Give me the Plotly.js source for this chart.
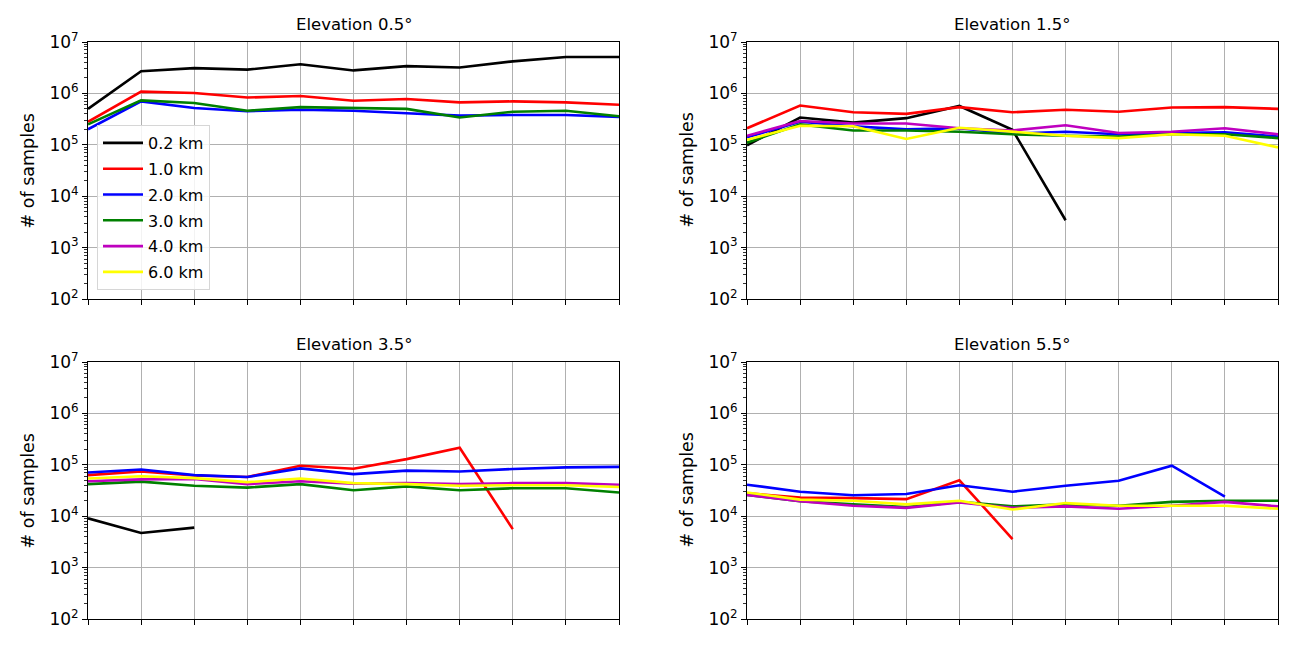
<!DOCTYPE html>
<html>
<head>
<meta charset="utf-8">
<script src="https://cdn.plot.ly/plotly-3.0.1.min.js"></script>
<style>html,body{margin:0;padding:0;background:#fff;}#chart{width:1299px;height:647px;}</style>
</head>
<body>
<div id="chart"></div>
<script>
// x positions (unlabelled bins)
const xBins = [0,1,2,3,4,5,6,7,8,9,10];
const seriesNames = ["0.2 km","1.0 km","2.0 km","3.0 km","4.0 km","6.0 km"];
const seriesColors = ["#000000","#ff0000","#0000ff","#008000","#bf00bf","#ffff00"];
const panelTitles = ["Elevation 0.5°","Elevation 1.5°","Elevation 3.5°","Elevation 5.5°"];
const yTickVals = [1e2,1e3,1e4,1e5,1e6,1e7];
const yTickText = ["10<sup>2</sup>","10<sup>3</sup>","10<sup>4</sup>","10<sup>5</sup>","10<sup>6</sup>","10<sup>7</sup>"];
const yMinorVals = [2e2,3e2,4e2,5e2,6e2,7e2,8e2,9e2,2e3,3e3,4e3,5e3,6e3,7e3,8e3,9e3,2e4,3e4,4e4,5e4,6e4,7e4,8e4,9e4,2e5,3e5,4e5,5e5,6e5,7e5,8e5,9e5,2e6,3e6,4e6,5e6,6e6,7e6,8e6,9e6];

// Elevation 0.5
const e05_02 = [5.0e5,2.7e6,3.1e6,2.9e6,3.7e6,2.8e6,3.4e6,3.2e6,4.2e6,5.1e6,5.1e6];
const e05_10 = [2.8e5,1.08e6,1.02e6,8.3e5,8.9e5,7.2e5,7.8e5,6.7e5,7.0e5,6.7e5,6.0e5];
const e05_20 = [2.0e5,7.0e5,5.2e5,4.5e5,4.8e5,4.6e5,4.1e5,3.7e5,3.8e5,3.8e5,3.5e5];
const e05_30 = [2.5e5,7.3e5,6.5e5,4.6e5,5.4e5,5.2e5,5.0e5,3.4e5,4.4e5,4.6e5,3.6e5];
const e05_40 = [null,null,null,null,null,null,null,null,null,null,null];
const e05_60 = [null,null,null,null,null,null,null,null,null,null,null];

// Elevation 1.5
const e15_02 = [9.8e4,3.4e5,2.7e5,3.3e5,5.7e5,1.96e5,3.4e3,null,null,null,null];
const e15_10 = [2.1e5,5.8e5,4.3e5,4.0e5,5.4e5,4.3e5,4.8e5,4.4e5,5.3e5,5.4e5,5.0e5];
const e15_20 = [1.4e5,2.8e5,2.3e5,2.0e5,2.1e5,1.65e5,1.8e5,1.6e5,1.7e5,1.75e5,1.45e5];
const e15_30 = [1.1e5,2.5e5,1.9e5,1.9e5,1.8e5,1.6e5,1.5e5,1.45e5,1.6e5,1.6e5,1.35e5];
const e15_40 = [1.5e5,2.9e5,2.6e5,2.6e5,2.1e5,1.9e5,2.4e5,1.7e5,1.8e5,2.1e5,1.6e5];
const e15_60 = [1.25e5,2.35e5,2.3e5,1.3e5,2.15e5,1.8e5,1.5e5,1.35e5,1.6e5,1.5e5,8.9e4];

// Elevation 3.5
const e35_02 = [9.1e3,4.7e3,6.0e3,null,null,null,null,null,null,null,null];
const e35_10 = [6.3e4,7.4e4,6.2e4,5.8e4,9.6e4,8.4e4,1.29e5,2.15e5,5.6e3,null,null];
const e35_20 = [7.1e4,8.1e4,6.3e4,5.8e4,8.5e4,6.6e4,7.7e4,7.4e4,8.3e4,8.9e4,9.1e4];
const e35_30 = [4.2e4,4.7e4,3.9e4,3.6e4,4.2e4,3.2e4,3.8e4,3.2e4,3.5e4,3.5e4,2.9e4];
const e35_40 = [4.8e4,5.2e4,5.3e4,4.2e4,4.8e4,4.3e4,4.4e4,4.2e4,4.4e4,4.4e4,4.1e4];
const e35_60 = [5.4e4,6.0e4,5.5e4,4.6e4,5.4e4,4.4e4,4.2e4,3.9e4,4.0e4,4.0e4,3.7e4];

// Elevation 5.5
const e55_02 = [null,null,null,null,null,null,null,null,null,null,null];
const e55_10 = [2.8e4,2.3e4,2.25e4,2.15e4,5.0e4,3.6e3,null,null,null,null,null];
const e55_20 = [4.1e4,3.0e4,2.55e4,2.7e4,4.0e4,3.0e4,3.9e4,4.9e4,9.6e4,2.4e4,null];
const e55_30 = [2.6e4,1.95e4,1.7e4,1.5e4,1.9e4,1.55e4,1.7e4,1.6e4,1.9e4,2.0e4,2.0e4];
const e55_40 = [2.6e4,1.95e4,1.6e4,1.45e4,1.85e4,1.45e4,1.55e4,1.4e4,1.6e4,1.9e4,1.55e4];
const e55_60 = [2.9e4,2.1e4,2.0e4,1.7e4,2.0e4,1.35e4,1.8e4,1.6e4,1.6e4,1.6e4,1.4e4];

const panels = [
  [e05_02,e05_10,e05_20,e05_30,e05_40,e05_60],
  [e15_02,e15_10,e15_20,e15_30,e15_40,e15_60],
  [e35_02,e35_10,e35_20,e35_30,e35_40,e35_60],
  [e55_02,e55_10,e55_20,e55_30,e55_40,e55_60]
];

const W = 1299, H = 647;
const xDom = [[88/W, 619/W],[747/W, 1278/W]];
const yDom = [[1-299/H, 1-42/H],[1-619/H, 1-362/H]];
const axisIds = [["x","y"],["x2","y2"],["x3","y3"],["x4","y4"]];
const panelPos = [[0,0],[1,0],[0,1],[1,1]];

const traces = [];
panels.forEach((p, pi) => {
  p.forEach((ys, si) => {
    traces.push({
      type: "scatter", mode: "lines",
      x: xBins, y: ys,
      name: seriesNames[si],
      legendgroup: seriesNames[si],
      showlegend: pi === 0,
      line: {color: seriesColors[si], width: 2.6},
      connectgaps: false,
      xaxis: axisIds[pi][0], yaxis: axisIds[pi][1]
    });
  });
});

const font = "DejaVu Sans, sans-serif";
const layout = {
  width: W, height: H,
  margin: {l:0, r:0, t:0, b:0},
  paper_bgcolor: "#ffffff", plot_bgcolor: "#ffffff",
  font: {family: font, color: "#000000"},
  showlegend: true,
  legend: {
    x: 97/W, y: 1-125/H, xanchor: "left", yanchor: "top",
    bgcolor: "rgba(255,255,255,0.85)", bordercolor: "#d6d6d6", borderwidth: 1,
    font: {family: font, size: 16, color: "#000"},
    tracegroupgap: 2, itemwidth: 40
  },
  annotations: [],
  hovermode: false
};

panelPos.forEach((pos, pi) => {
  const xk = pi === 0 ? "xaxis" : "xaxis" + (pi+1);
  const yk = pi === 0 ? "yaxis" : "yaxis" + (pi+1);
  const yAnchor = axisIds[pi][1], xAnchor = axisIds[pi][0];
  layout[xk] = {
    domain: xDom[pos[0]], anchor: yAnchor,
    range: [0, 10], tickmode: "array", tickvals: xBins, showticklabels: false,
    ticks: "outside", ticklen: 5, tickcolor: "#000", tickwidth: 1,
    showgrid: true, gridcolor: "#b0b0b0", gridwidth: 1,
    showline: true, linecolor: "#000", linewidth: 1, mirror: true,
    zeroline: false, fixedrange: true
  };
  layout[yk] = {
    domain: yDom[pos[1]], anchor: xAnchor, type: "log",
    range: [2, 7], tickmode: "array", tickvals: yTickVals, ticktext: yTickText,
    tickfont: {family: font, size: 17, color: "#000"},
    ticks: "outside", ticklen: 5, tickcolor: "#000", tickwidth: 1,
    minor: {tickmode: "array", tickvals: yMinorVals, ticks: "outside", ticklen: 3, tickcolor: "#000", tickwidth: 0.8, showgrid: false},
    showgrid: true, gridcolor: "#b0b0b0", gridwidth: 1,
    showline: true, linecolor: "#000", linewidth: 1, mirror: true,
    zeroline: false, fixedrange: true
  };
  const xd = xDom[pos[0]], yd = yDom[pos[1]];
  layout.annotations.push({
    text: panelTitles[pi], xref: "paper", yref: "paper",
    x: (xd[0]+xd[1])/2, y: yd[1] + 6/H, xanchor: "center", yanchor: "bottom",
    showarrow: false, font: {family: font, size: 16.5, color: "#000"}
  });
  layout.annotations.push({
    text: "# of samples", xref: "paper", yref: "paper",
    x: xd[0] - 61/W, y: (yd[0]+yd[1])/2, xanchor: "center", yanchor: "middle",
    textangle: -90, showarrow: false, font: {family: font, size: 17.5, color: "#000"}
  });
});

Plotly.newPlot("chart", traces, layout, {displayModeBar: false, staticPlot: true});
</script>
</body>
</html>
